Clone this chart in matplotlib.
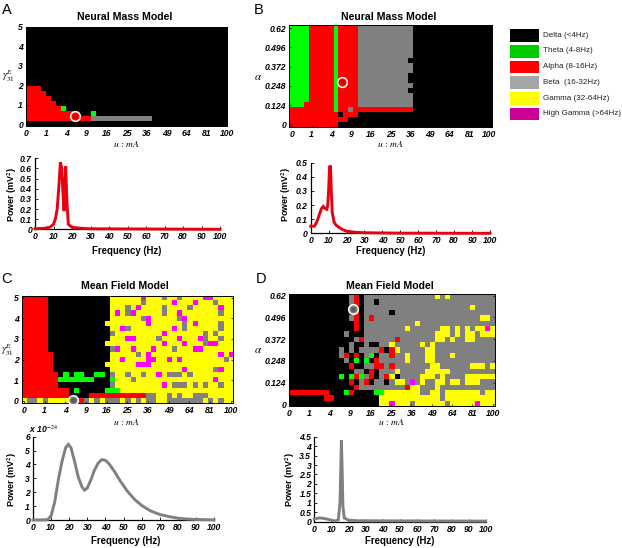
import matplotlib
matplotlib.use("Agg")
import matplotlib.pyplot as plt
import numpy as np
from matplotlib.colors import ListedColormap

W, H = 622, 548
plt.rcParams['font.family'] = ['Liberation Sans', 'DejaVu Sans']
plt.rcParams['mathtext.fontset'] = 'stix'

BAND_LABELS = ["Delta (<4Hz)", "Theta (4-8Hz)", "Alpha (8-16Hz)", "Beta  (16-32Hz)",
               "Gamma (32-64Hz)", "High Gamma (>64Hz)"]
LEGEND_COLORS = ["#000000", "#00cc00", "#ff0000", "#a6a6a6", "#ffff00", "#cc0099"]
CODES = "KGRBYM"
MAP_COLORS = ["#000000", "#00ff00", "#ff0000", "#808080", "#ffff00", "#ff00ff"]

U_TICKS = [0, 1, 4, 9, 16, 25, 36, 49, 64, 81, 100]
GAMMA_TICKS = ["0", "1", "2", "3", "4", "5"]
ALPHA_TICKS = ["0", "0.124", "0.248", "0.372", "0.496", "0.62"]

# rows listed top to bottom; each token paints colour code + column (range); later tokens overwrite
MAP_A = [""] * 12 + ["R0-2", "R0-3", "R0-4", "R0-5", "R0-6 G7", "R0-9 G13", "R0-12 B13-24", ""]

b_full = "G0-3 R4-8 G9 R10-13 B14-24"
MAP_B = [b_full] * 7 + [b_full + " K24", b_full, b_full, b_full + " K24", b_full + " K24", b_full,
                        b_full + " K24", b_full, b_full,
                        "G0-2 R3-8 G9 R10-13 B14-24", "R0-24 G9 B12", "R0-13 K10", "R0-11", "R0-9"]

MAP_C = [
    "R0-4 K5-16 Y17-40 M23 B27 B30 M35-36",
    "R0-4 K5-16 Y17-40 B23 M29 M33 B37",
    "R0-4 K5-16 Y17-40 B20 M22 B27 B32 M38",
    "R0-4 K5-16 Y17-40 M18 B20 M21 B27 M30 B38",
    "R0-4 K5-16 Y17-40 B23 M24 B30 M31",
    "R0-4 K5-15 Y16-40 M24 B31 M33 B38",
    "R0-4 K5-16 Y17-40 M19 B20 M29 B31 B38",
    "R0-4 K5-16 Y17-40 B17 M27 B35 B37",
    "R0-4 K5-16 Y17-40 M20-21 B26 M30 M34 B35 B38",
    "R0-4 K5-15 Y16-40 M27 M31 B35 M36-37",
    "R0-4 K5-16 Y17-40 B17 M18 M21 M25 B29 M33-34",
    "R0-5 K6-16 Y17-40 B22 M24 M38 M40",
    "R0-5 K6-16 Y17-40 M19 M24-25 M28 M30 B39",
    "R0-5 K6-15 Y16-40 M22-24",
    "R0-5 K6-16 Y17-40 M31 B37 M38",
    "R0-6 K7-16 Y17-40 G8 G10-11 G14-15 B17 B20 B23 M26 B28-30 B32",
    "R0-6 G7-13 K14-16 G17 Y18-40 B21 M37",
    "R0-6 K7-16 B17 Y18-40 M27 B29-31 B33 B35 B38",
    "R0-8 K9-15 G10 G16-18 Y19-40",
    "R0-8 K9-12 R13-23 Y24-40 B24-25 B28 B30 B33-35",
    "Y0-40 B1-2 B4 B10 R11 B12 B14 B16-18 B20 B22 B24-25 B28-34 B36 B38",
]

MAP_D = [
    "K0-11 B12 R13 K14 B15-40 Y29 Y31",
    "K0-11 B12 R13 K14 B15-40 K17",
    "K0-12 R13 K14 B15-40 Y36",
    "K0-12 R13 K14 B15-40 K20",
    "K0-11 B12 R13 K14 B15-40 R16 Y38-39",
    "K0-12 R13 K14 B15-40 Y25",
    "K0-12 R13 K14 B15-40 Y23 Y30-31 Y33 Y35 Y37-38 M39 Y40",
    "K0-10 B11 K12-14 B15-40 Y29-31 Y33 Y35-36 Y38-40",
    "K0-12 B13 R14 B15-40 R21 Y29-30 Y32 Y35-36",
    "K0-11 B12 K13-14 B15 K16-17 B18-40 Y20 Y26 Y28",
    "K0-9 B10-40 K11 K13 R18 K19 R20 Y21 Y27-28",
    "K0-9 B10-40 R11 K12 R13 K14 G16 K17 R20 Y23 Y27-28 Y32",
    "K0-10 B11-40 K12 G13 K14 G15 K16 R17 Y23 Y27-28",
    "K0-11 R12 K13-14 B15-40 R17-18 R20 Y28-29 Y36-38 Y40",
    "K0-12 B13-40 K15 R16 K17 Y21 Y27-31",
    "K0-9 G10 K11 G12 R13 G14 B15-40 R16 K17 R19 Y20 K21 Y26-28 Y30 Y35-40",
    "K0-11 R12 K13 B14 R15 K16 B17-40 K19 Y21-22 M24 Y26 Y29-30 Y32-33 Y35-37",
    "K0-12 R13 B14-40 R23 Y24-25 Y29",
    "R0-7 K8-10 G11 R12 K13-16 G17-18 Y19-25 B26-27 Y28-29 B30 Y31-37 B38 Y39-40",
    "K0-6 R7-8 K9-17 Y18-40 B30",
    "K0-17 Y18-40 M20 B24 B31 M37",
]

FREQ_A = [0, 5, 8, 10, 11, 12, 13, 13.7, 14.5, 15, 15.7, 16, 16.6, 17.2, 18, 20, 25, 30, 100]
POWER_A = [.005, .01, .02, .05, .1, .2, .45, .66, .6, .4, .18, .35, .62, .3, .05, .02, .01, .005, 0]
FREQ_B = [0, 2, 3, 4, 5, 6, 7, 8, 9, 9.5, 10, 10.5, 11, 11.5, 12, 13, 14, 16, 18, 20, 25, 30, 50, 100]
POWER_B = [.05, .05, .07, .1, .14, .175, .19, .175, .17, .2, .3, .47, .48, .3, .15, .08, .06, .04, .025, .015,
           .007, .004, .001, 0]
FREQ_C = [0, 8, 10, 12, 14, 16, 18, 19.5, 21, 23, 25, 27, 28.5, 30, 32, 34, 36, 38, 40, 42, 45, 48, 52, 56,
          60, 65, 70, 75, 80, 85, 90, 100]
POWER_C = [0, .02, .3, 1.3, 2.9, 4.2, 5.2, 5.45, 5.2, 4.2, 3.1, 2.4, 2.15, 2.3, 2.9, 3.6, 4.1, 4.35, 4.3, 4.05,
           3.5, 2.85, 2.1, 1.5, 1.05, .65, .4, .25, .13, .07, .04, .01]
FREQ_D = [0, 3, 6, 9, 12, 14, 15, 15.5, 15.8, 16.2, 16.7, 17.5, 20, 25, 100]
POWER_D = [.15, .2, .17, .1, .04, .1, 1.0, 3, 4.3, 3, .8, .2, .08, .05, .03]
FREQ_TICKS = list(range(0, 101, 10))
POWER_TICKS_A = [0, .1, .2, .3, .4, .5, .6, .7]
POWER_TICKS_B = [0, .1, .2, .3, .4, .5]
POWER_TICKS_C = [0, 1, 2, 3, 4, 5, 6]
POWER_TICKS_D = [0, .5, 1, 1.5, 2, 2.5, 3, 3.5, 4, 4.5]


def fmt(v):
    return f"{v:g}"


def build(rows, ncols):
    arr = np.zeros((len(rows), ncols), dtype=int)
    for i, row in enumerate(rows):
        for tok in row.split():
            code = CODES.index(tok[0])
            a, _, b = tok[1:].partition('-')
            arr[i, int(a):int(b or a) + 1] = code
    return arr


fig = plt.figure(figsize=(W / 100, H / 100), dpi=100)


def axpx(l, t, r, b):
    return fig.add_axes([l / W, 1 - b / H, (r - l) / W, (b - t) / H])


def txt(x, y, s, **kw):
    kw.setdefault('ha', 'center')
    kw.setdefault('va', 'center')
    fig.text(x / W, 1 - y / H, s, **kw)


TICKFONT = dict(fontsize=6.2, fontweight='bold', fontstyle='italic')
cmap = ListedColormap(MAP_COLORS)


def heat(rows, ncols, box, xt, yt, ylabels, mark, mark_color, core_color):
    l, t, r, b = box
    ax = axpx(l, t, r, b)
    ax.imshow(build(rows, ncols), cmap=cmap, vmin=-.5, vmax=5.5, aspect='auto',
              interpolation='nearest', extent=(l, r, b, t))
    ax.set_xlim(l, r)
    ax.set_ylim(b, t)
    ax.set_xticks(np.linspace(xt[0], xt[1], len(U_TICKS)))
    ax.set_xticklabels([fmt(v) for v in U_TICKS], **TICKFONT)
    ax.set_yticks(np.linspace(yt[0], yt[1], len(ylabels)))
    ax.set_yticklabels(ylabels, **TICKFONT)
    ax.tick_params(length=1.5, width=.5, pad=2.2, direction='in', top=False, right=True)
    for s in ax.spines.values():
        s.set_linewidth(.7)
    mx, my = mark
    ax.scatter([mx], [my], s=66, c='white', linewidths=0, zorder=3)
    ax.scatter([mx], [my], s=34, c=mark_color, linewidths=0, zorder=4)
    ax.scatter([mx], [my], s=12, c=core_color, linewidths=0, zorder=5)
    return ax


heat(MAP_A, 40, (26, 26.5, 227, 126), (26, 227), (124, 27), GAMMA_TICKS, (75.3, 116), '#ff0000', '#d40000')
heat(MAP_B, 41, (289.3, 25, 491.7, 127.3), (292, 489.3), (124.3, 28.3), ALPHA_TICKS, (342.3, 81.7), '#ff0000', '#d40000')
heat(MAP_C, 41, (21.7, 295.7, 233, 403.3), (24, 230.7), (400.7, 297.7), GAMMA_TICKS, (73.3, 400), '#808080', '#5a5a5a')
heat(MAP_D, 41, (289.3, 294.3, 495, 405.7), (289.3, 492.7), (404.3, 295.7), ALPHA_TICKS, (352.7, 309.3), '#808080', '#5a5a5a')


def spectrum(freq, power, color, box, ymax, yticks):
    x0, x1, y0, yt = box
    ax = axpx(x0, yt, x1, y0)
    ax.plot(freq, power, color=color, lw=2.1, clip_on=False, solid_joinstyle='miter', zorder=3)
    ax.set_xlim(0, 100)
    ax.set_ylim(0, ymax)
    ax.set_xticks(FREQ_TICKS)
    ax.set_xticklabels([fmt(v) for v in FREQ_TICKS], **TICKFONT)
    ax.set_yticks(yticks)
    ax.set_yticklabels([fmt(v) for v in yticks], **TICKFONT)
    ax.tick_params(length=2, width=.6, pad=2.2, direction='in')
    ax.spines['top'].set_visible(False)
    ax.spines['right'].set_visible(False)
    ax.spines['left'].set_linewidth(.9)
    ax.spines['bottom'].set_linewidth(.9)
    return ax


spectrum(FREQ_A, POWER_A, '#e8000f', (35, 220, 229.3, 158.3), .7, POWER_TICKS_A)
spectrum(FREQ_B, POWER_B, '#e8000f', (310.7, 490, 233.3, 162.7), .5, POWER_TICKS_B)
spectrum(FREQ_C, POWER_C, '#808080', (33, 214, 520, 436.7), 6, POWER_TICKS_C)
spectrum(FREQ_D, POWER_D, '#808080', (314.3, 485.7, 521.7, 436.7), 4.5, POWER_TICKS_D)

# titles, letters
TITLE = dict(fontsize=7.6, fontweight='bold')
txt(125, 16.7, "Neural Mass Model", **TITLE)
txt(389, 16.7, "Neural Mass Model", **TITLE)
txt(125, 286, "Mean Field Model", **TITLE)
txt(390, 286, "Mean Field Model", **TITLE)
LETTER = dict(fontsize=10.5)
txt(7, 9.5, "A", **LETTER)
txt(259, 9.5, "B", **LETTER)
txt(7, 279, "C", **LETTER)
txt(261, 279, "D", **LETTER)

ULABEL = r"$u\,:\,mA$"
for x, y in [(126.7, 144.5), (390.7, 144.5), (126.7, 421.7), (391, 421.7)]:
    txt(x, y, ULABEL, fontsize=6.8)
txt(8, 76, r"$\gamma^{E}_{31}$", fontsize=7.5)
txt(7, 350, r"$\gamma^{E}_{31}$", fontsize=7.5)
for y in (77, 350):
    txt(258, y, r"$\alpha$", fontsize=8)

AXL = dict(fontsize=6.9, fontweight='bold')
for x, y in [(127, 250.7), (390.7, 250.7), (126, 540.7), (400, 540.7)]:
    txt(x, y, "Frequency (Hz)", **AXL)
AXLP = dict(fontsize=6.5, fontweight='bold')
for x, y in [(12.7, 195), (286.7, 195), (12.7, 480), (290.7, 480)]:
    txt(x, y, r"Power (mV$\mathbf{^2}$)", rotation=90, **AXLP)
txt(29, 429, r"x 10$^{\mathit{-24}}$", ha='left', fontsize=6.2, fontweight='bold', fontstyle='italic')

# legend
lg = axpx(0, 0, W, H)
lg.set_xlim(0, W)
lg.set_ylim(H, 0)
lg.axis('off')
lg.patch.set_alpha(0)
for i, (c, s) in enumerate(zip(LEGEND_COLORS, BAND_LABELS)):
    top = 29.3 + 15.7 * i
    lg.add_patch(plt.Rectangle((510, top), 28.5, 12.6, color=c, lw=0))
    txt(543, top + 6, s, ha='left', fontsize=5.8, color='#222222')

fig.savefig("out.png", dpi=100)
